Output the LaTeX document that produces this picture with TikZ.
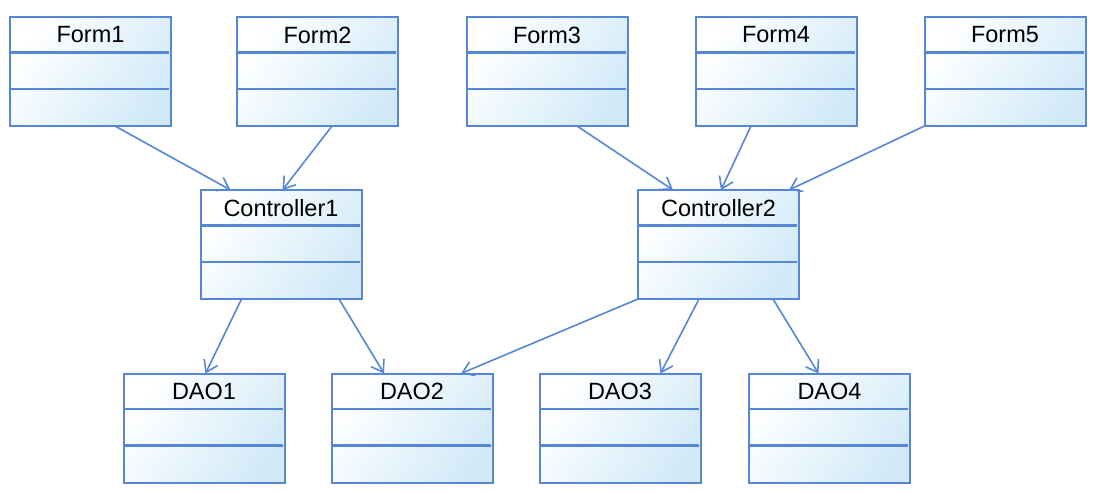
\documentclass[tikz,border=0pt]{standalone}
\usepackage{fontspec}
\setmainfont{Liberation Sans}
\usetikzlibrary{calc,arrows.meta}
\definecolor{clsborder}{HTML}{5587D6}
\definecolor{clsfill}{HTML}{D2EAF8}
\tikzset{
  clsbox/.style={draw=clsborder, line width=2pt, shading=axis, top color=white, bottom color=clsfill, shading angle=55,
    minimum width=161pt, minimum height=109pt, inner sep=0pt, outer sep=0pt},
  clsline/.style={draw=clsborder, line width=2.4pt},
  clstitle/.style={font=\fontsize{23.5}{26}\selectfont, text=black, inner sep=0pt},
  dep/.style={draw=clsborder, line width=1.6pt, -{Straight Barb[length=11pt,width=15pt,line width=1.6pt]}}
}
\newcommand\umlclass[4]{%
  \node[clsbox] (#1) at (#2,#3) {};
  \draw[clsline] ($(#1.north west)+(0,35.5)$) -- ($(#1.north east)+(-2,35.5)$);
  \draw[clsline] ($(#1.north west)+(0,72)$) -- ($(#1.north east)+(-2,72)$);
  \node[clstitle] (#1t) at ($(#1.north)+(0,18)$) {#4};
}
\begin{document}
\begin{tikzpicture}[x=1pt,y=-1pt]
\fill[white] (0,0) rectangle (1096,492);
\useasboundingbox (0,0) rectangle (1096,492);
\umlclass{f1}{90.5}{71.5}{Form1}
\umlclass{f2}{317.5}{71.5}{Form2}
\umlclass{f3}{547}{71.5}{Form3}
\umlclass{f4}{776}{71.5}{Form4}
\umlclass{f5}{1005}{71.5}{Form5}
\umlclass{c1}{281}{244.5}{Controller1}
\umlclass{c2}{718.5}{244.5}{Controller2}
\umlclass{d1}{204}{428}{DAO1}
\umlclass{d2}{412}{428}{DAO2}
\umlclass{d3}{620}{428}{DAO3}
\umlclass{d4}{829.5}{428}{DAO4}
\draw[dep] ($(f1.south west)+(105,0)$) -- ($(c1.north west)+(30,0)$);
\draw[dep] ($(f2.south west)+(95,0)$) -- ($(c1.north west)+(82,0)$);
\draw[dep] ($(f3.south west)+(110.5,0)$) -- ($(c2.north west)+(35,0)$);
\draw[dep] ($(f4.south west)+(55.5,0)$) -- ($(c2.north west)+(83,0)$);
\draw[dep] (f5.south west) -- ($(c2.north west)+(151,0)$);
\draw[dep] ($(c1.south west)+(41,0)$) -- ($(d1.north west)+(82,0)$);
\draw[dep] ($(c1.south west)+(138.5,0)$) -- ($(d2.north west)+(52.5,0)$);
\draw[dep] (c2.south west) -- ($(d2.north west)+(129.5,0)$);
\draw[dep] ($(c2.south west)+(61,0)$) -- ($(d3.north west)+(121,0)$);
\draw[dep] ($(c2.south west)+(135,0)$) -- ($(d4.north west)+(69.5,0)$);
\end{tikzpicture}
\end{document}
